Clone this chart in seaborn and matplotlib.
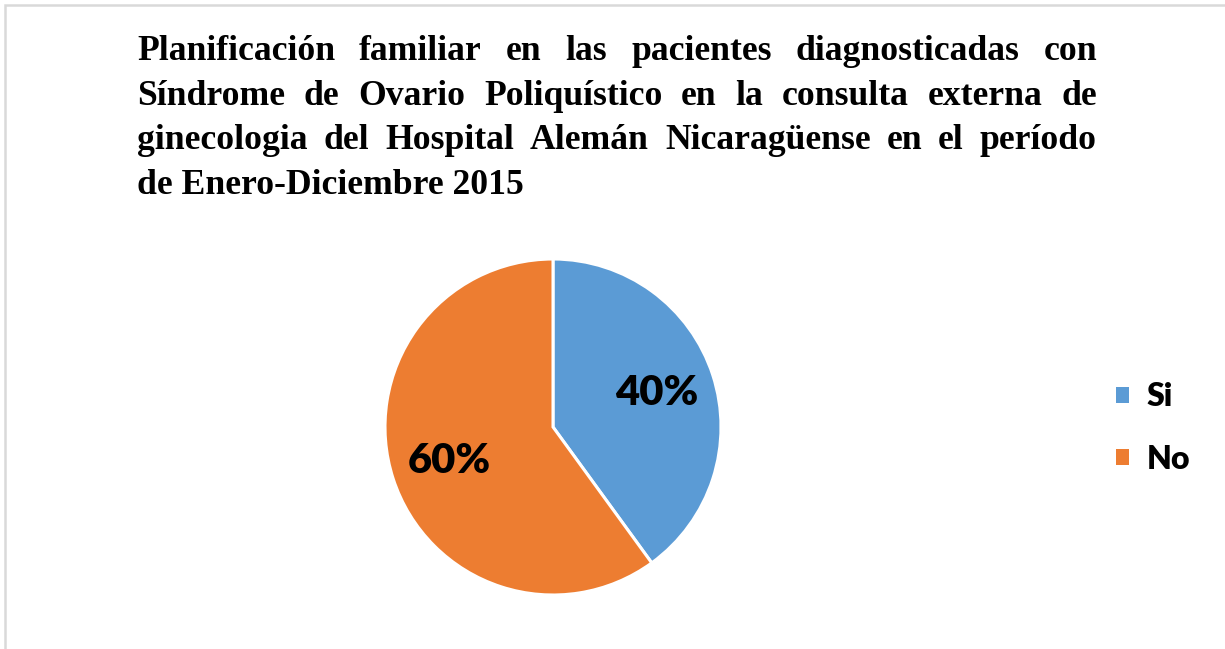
import matplotlib
matplotlib.use("Agg")
import matplotlib.pyplot as plt
import seaborn as sns
from matplotlib.patches import Rectangle

# Data
categories = ["Si", "No"]
percentages = [40, 60]
title_lines = [
    "Planificación familiar en las pacientes diagnosticadas con",
    "Síndrome de Ovario Poliquístico en la consulta externa de",
    "ginecologia del Hospital Alemán Nicaragüense en el período",
    "de Enero-Diciembre 2015",
]

sns.set_theme(style="white")
plt.rcParams['font.family'] = ['Lato', 'DejaVu Sans']
plt.rcParams['text.color'] = 'black'
colors = ["#5B9BD5", "#ED7D31"]

W, H = 1225, 649
fig = plt.figure(figsize=(W / 100, H / 100), dpi=100)
fig.patch.set_facecolor("white")

# light grey chart border (top and left visible, rest runs off the image)
fig.patches.append(Rectangle((5 / W, -0.05), 1.1, 1 - 5 / H + 0.05, transform=fig.transFigure,
                             fill=False, edgecolor="#d9d9d9", linewidth=1.8))

# pie axes: centre (553, 427) px, radius 168 px
cx, cy, r = 553, 427, 168
ax = fig.add_axes([(cx - r) / W, (H - cy - r) / H, 2 * r / W, 2 * r / H])
wedges, texts, autotexts = ax.pie(
    percentages, colors=colors, startangle=90, counterclock=False,
    autopct="%d%%", pctdistance=0.65,
    wedgeprops=dict(edgecolor="white", linewidth=2.2),
    textprops=dict(fontsize=30, fontweight="heavy", color="black", family="Lato"),
)
ax.set_xlim(-1, 1)
ax.set_ylim(-1, 1)
ax.set_aspect("equal")

leg = fig.legend(wedges, categories, loc="center left", bbox_to_anchor=(1116 / W, (H - 428) / H),
                 frameon=False, prop=dict(family="Lato", weight="heavy", size=23),
                 handlelength=0.4, handleheight=0.4, handletextpad=0.55, labelspacing=1.05,
                 borderpad=0, borderaxespad=0, labelcolor="black")
for h in leg.legend_handles:
    h.set_edgecolor("none")

# justified title, Times-like bold serif
left, right = 137, 1097
baseline0, line_gap = 60, 44.6
title_font = dict(family="Liberation Serif", weight="bold", size=25.7)
renderer = fig.canvas.get_renderer()
for i, line in enumerate(title_lines):
    y = 1 - (baseline0 + i * line_gap) / H
    words = line.split(" ")
    if i == len(title_lines) - 1:
        fig.text(left / W, y, line, ha="left", va="baseline", color="black", **title_font)
        continue
    items = [fig.text(0, y, w, ha="left", va="baseline", color="black", **title_font) for w in words]
    widths = [t.get_window_extent(renderer).width for t in items]
    gap = (right - left - sum(widths)) / (len(words) - 1)
    x = left
    for t, wd in zip(items, widths):
        t.set_x(x / W)
        x += wd + gap

fig.savefig("out.png", dpi=100)
